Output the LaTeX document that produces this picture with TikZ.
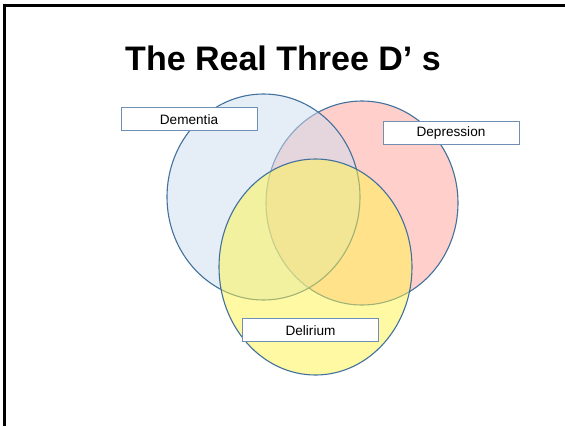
\documentclass[tikz,border=0pt]{standalone}
\usepackage{fontspec}
\setmainfont{Liberation Sans}
\definecolor{outl}{HTML}{41719C}
\definecolor{boxl}{HTML}{6F8FB5}
\definecolor{bluef}{HTML}{CDDDF1}
\definecolor{redf}{HTML}{FFD0CB}
\definecolor{yelf}{HTML}{FFF54B}
\tikzset{
  venn/.style={draw=outl, line width=1.1pt},
  lab/.style={draw=boxl, fill=white, line width=0.9pt, minimum width=136pt, minimum height=23pt, inner sep=0pt, font=\fontsize{13.6}{16}\selectfont},
  frameline/.style={line width=2.8pt, black}
}
\begin{document}
\begin{tikzpicture}[x=1pt,y=-1pt]
\useasboundingbox (0,0) rectangle (565,426);
\fill[white] (0,0) rectangle (565,426);
\coordinate (tl) at (4.5,5.3);
\coordinate (tr) at (565,5.3);
\coordinate (bl) at (4.5,426);
\draw[frameline] (tr) -- (tl) -- (bl);
\node (title) at (283,58) {\fontsize{34}{40}\selectfont\bfseries The Real Three D’ s};
% circles: red first, then blue, then yellow, each fill semi-transparent over what lies below
\draw[venn, fill=redf] (362,203) ellipse [x radius=96, y radius=102];
\fill[bluef, fill opacity=0.5] (263.5,197) ellipse [x radius=96.5, y radius=103];
\draw[venn] (263.5,197) ellipse [x radius=96.5, y radius=103];
\fill[yelf, fill opacity=0.5] (315.5,267) ellipse [x radius=96.5, y radius=108];
\draw[venn] (315.5,267) ellipse [x radius=96.5, y radius=108];
% labels
\node[lab] (dem) at (189,119.3) {Dementia};
\node[lab] (dep) at (451,133.3) {Depression};
\node[lab] (del) at (310.5,330.3) {Delirium};
\end{tikzpicture}
\end{document}
